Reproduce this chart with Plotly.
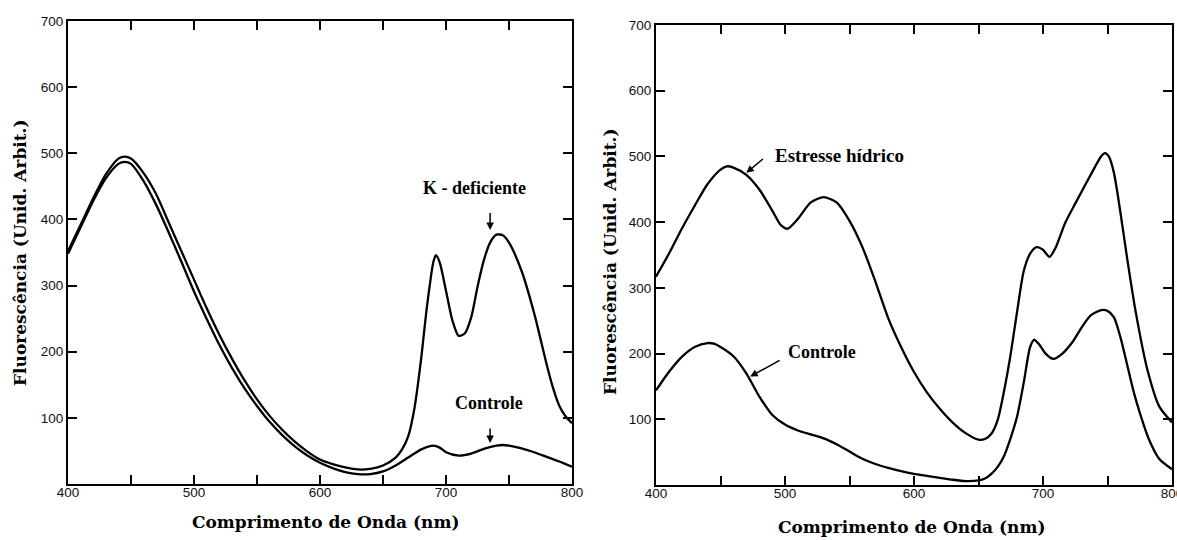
import plotly.graph_objects as go

# left panel: K-deficient vs control
wl_kdef = [400, 410, 420, 430, 440, 445, 450, 460, 470, 480, 490, 500, 510, 520, 530, 540,
           550, 560, 570, 580, 590, 600, 610, 620, 630, 640, 650, 660, 665, 670, 675, 680,
           685, 690, 692, 695, 700, 705, 710, 715, 720, 725, 730, 735, 740, 745, 750, 760,
           770, 780, 785, 790, 795, 800]
fl_kdef = [352, 392, 432, 468, 492, 495, 492, 470, 438, 395, 352, 309, 266, 226, 190, 157,
           128, 103, 82, 64, 49, 37, 30, 25, 22, 23, 28, 40, 52, 72, 115, 185,
           270, 336, 346, 335, 292, 248, 224, 228, 252, 298, 338, 365, 377, 376, 365, 322,
           258, 180, 145, 118, 102, 92]

wl_ctrl_l = [400, 410, 420, 430, 440, 445, 450, 460, 470, 480, 490, 500, 510, 520, 530, 540,
             550, 560, 570, 580, 590, 600, 610, 620, 630, 640, 650, 660, 670, 680, 690, 695,
             700, 710, 720, 730, 740, 745, 750, 760, 770, 780, 790, 800]
fl_ctrl_l = [348, 388, 428, 462, 484, 487, 484, 458, 422, 380, 336, 291, 250, 211, 176, 145,
             118, 94, 74, 57, 43, 32, 24, 18, 15, 15, 19, 28, 40, 52, 58, 55,
             48, 43, 46, 53, 58, 59, 58, 54, 48, 41, 34, 26]

# right panel: water stress vs control
wl_stress = [400, 410, 420, 430, 440, 450, 455, 460, 470, 480, 490, 497, 502, 510, 520, 530,
             540, 550, 560, 570, 580, 590, 600, 610, 620, 630, 640, 650, 655, 660, 665, 670,
             675, 680, 685, 690, 695, 700, 705, 710, 717, 726, 740, 745, 748, 751, 755, 760,
             765, 772, 781, 790, 800]
fl_stress = [317, 352, 390, 425, 458, 480, 485, 483, 472, 450, 418, 395, 390, 405, 430, 438,
             430, 402, 362, 310, 254, 210, 172, 141, 116, 95, 79, 69, 70, 78, 100, 145,
             200, 265, 325, 352, 362, 358, 347, 362, 398, 432, 483, 500, 505, 500, 475, 415,
             348, 262, 175, 120, 95]

wl_ctrl_r = [400, 410, 420, 430, 440, 445, 450, 460, 470, 480, 490, 500, 510, 520, 530, 540,
             550, 560, 570, 580, 590, 600, 610, 620, 630, 640, 650, 655, 660, 665, 670, 675,
             680, 685, 690, 693, 697, 702, 708, 715, 723, 730, 737, 745, 750, 755, 760, 765,
             770, 775, 782, 790, 800]
fl_ctrl_r = [144, 172, 195, 210, 216, 215, 210, 196, 170, 135, 107, 92, 83, 77, 71, 62,
             51, 40, 32, 26, 21, 17, 14, 11, 8, 6, 7, 10, 17, 28, 45, 72,
             105, 155, 210, 221, 214, 200, 192, 200, 218, 240, 258, 266, 265, 255, 225, 185,
             144, 110, 70, 40, 24]

x_ticks = [400, 450, 500, 550, 600, 650, 700, 750, 800]
x_labels = ['400', '', '500', '', '600', '', '700', '', '800']
y_ticks = [100, 200, 300, 400, 500, 600, 700]
y_labels = ['100', '200', '300', '400', '500', '600', '700']

W, H = 1177, 540


def px(x):
    return x / W


def py(y):
    return 1 - y / H


TITLE_FONT = dict(family='DejaVu Serif', size=17, color='black')
NOTE_FONT = dict(family='Liberation Serif', size=18, color='black')

fig = go.Figure()
line = dict(color='black', width=2.3, shape='spline', smoothing=0.7)
fig.add_trace(go.Scatter(x=wl_kdef, y=fl_kdef, mode='lines', line=line, xaxis='x', yaxis='y'))
fig.add_trace(go.Scatter(x=wl_ctrl_l, y=fl_ctrl_l, mode='lines', line=line, xaxis='x', yaxis='y'))
fig.add_trace(go.Scatter(x=wl_stress, y=fl_stress, mode='lines', line=line, xaxis='x2', yaxis='y2'))
fig.add_trace(go.Scatter(x=wl_ctrl_r, y=fl_ctrl_r, mode='lines', line=line, xaxis='x2', yaxis='y2'))

axis_common = dict(showline=True, linecolor='black', linewidth=2, mirror='ticks',
                   ticks='inside', ticklen=9, tickwidth=2, tickcolor='black',
                   showgrid=False, zeroline=False, automargin=False,
                   tickfont=dict(family='Liberation Sans', size=13.5, color='#111'))

xa = dict(axis_common, range=[400, 800], tickvals=x_ticks, ticktext=x_labels,
          ticklabelstandoff=-5, ticklabeloverflow='allow')
ya = dict(axis_common, range=[0, 700], tickvals=y_ticks, ticktext=y_labels)

fig.update_layout(
    width=W, height=H,
    margin=dict(l=0, r=0, t=0, b=0),
    paper_bgcolor='white', plot_bgcolor='white',
    showlegend=False,
    xaxis=dict(xa, domain=[px(68), px(572)], anchor='y'),
    yaxis=dict(ya, domain=[py(484), py(21)], anchor='x'),
    xaxis2=dict(xa, domain=[px(656), px(1172)], anchor='y2'),
    yaxis2=dict(ya, domain=[py(485), py(25)], anchor='x2'),
)

# axis titles
titles = [
    ('Comprimento de Onda (nm)', 325, 522, 0),
    ('Comprimento de Onda (nm)', 912, 527, 0),
    ('Fluorescência (Unid. Arbit.)', 20, 253, -90),
    ('Fluorescência (Unid. Arbit.)', 610, 262, -90),
]
for text, x, y, ang in titles:
    fig.add_annotation(text='<b>' + text + '</b>', x=px(x), y=py(y), xref='paper', yref='paper',
                       showarrow=False, textangle=ang, font=TITLE_FONT,
                       xanchor='center', yanchor='middle')

# curve labels
labels = [
    ('<b>K - deficiente</b>', 723, 448, 'x', 'y', 18),
    ('<b>Controle</b>', 734, 123, 'x', 'y', 18),
    ('<b>Estresse hídrico</b>', 542, 501, 'x2', 'y2', 19),
    ('<b>Controle</b>', 529, 202, 'x2', 'y2', 18),
]
for text, x, y, xr, yr, size in labels:
    fig.add_annotation(text=text, x=x, y=y, xref=xr, yref=yr, showarrow=False,
                       font=dict(NOTE_FONT, size=size))

# pointer arrows: (tip x, tip y, tail x, tail y)
arrows = [
    (735, 384, 735, 412, 'x', 'y'),
    (735, 62, 735, 86, 'x', 'y'),
    (470, 475, 484, 498, 'x2', 'y2'),
    (473, 165, 497, 191, 'x2', 'y2'),
]
for x, y, ax, ay, xr, yr in arrows:
    fig.add_annotation(text='', x=x, y=y, ax=ax, ay=ay, xref=xr, yref=yr,
                       axref=xr, ayref=yr, showarrow=True, arrowhead=2,
                       arrowsize=1, arrowwidth=1.5, arrowcolor='black')

# drop the default page margin so the figure fills the window exactly
fig.write_html("out.html", config={'displayModeBar': False},
               post_script="document.body.style.margin='0';document.body.style.overflow='hidden';")
